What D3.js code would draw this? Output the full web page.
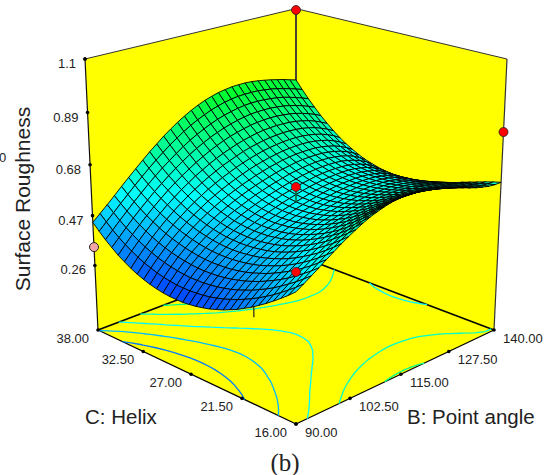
<!DOCTYPE html>
<html><head><meta charset="utf-8">
<style>html,body{margin:0;padding:0;background:#fff}svg{display:block}text{font-family:"Liberation Sans",Arial,sans-serif}</style>
<script src="https://cdn.jsdelivr.net/npm/d3@7"></script></head><body><div id="c"></div>
<script>
const bTicks=[90,102.5,115,127.5,140];
const cTicks=[16,21.5,27,32.5,38];
const zTicks=[0.26,0.47,0.68,0.89,1.1];
const zLabels=["0.26","0.47","0.68","0.89","1.1"];
const contourLevels=[0.345,0.435,0.52,0.605,0.69,0.775];
// Design points: B, C, response, above-surface flag
const designPoints=[[90,16,.566,1],[140,38,1.094,1],[140,16,.812,1],[115,27,.589,1],[90,38,.338,0]];
// Surface heights x 1000. Rows: C from 16 to 38. Columns: B from 90 to 140.
const surfaceMilli=[
[492,510,529,548,568,587,606,623,639,654,667,677,686,693,697,699,699,697,693,688,680,672,663,653,643,633,624,617,611,608,608],
[467,486,506,525,545,564,582,599,615,629,641,652,661,668,673,676,677,676,674,670,664,658,650,642,634,626,618,611,605,601,600],
[444,464,484,504,523,542,560,576,592,606,618,629,638,645,650,654,656,656,655,653,649,644,638,631,624,617,610,604,598,594,591],
[422,443,464,484,503,522,539,556,571,584,596,607,616,623,629,634,636,638,638,637,634,631,626,621,615,609,603,596,591,585,581],
[401,423,445,465,485,503,521,537,551,565,576,587,596,604,610,615,618,621,622,622,620,618,615,611,606,601,595,589,583,577,571],
[382,405,427,448,468,486,504,519,534,547,558,569,578,586,592,598,602,605,607,608,607,606,604,601,597,592,587,581,575,568,561],
[363,388,411,433,453,471,488,504,518,531,542,553,562,570,577,582,587,591,593,595,596,595,594,592,589,585,580,574,567,559,550],
[347,373,397,419,439,457,474,490,504,517,528,538,548,556,563,569,574,578,581,584,585,586,585,583,581,577,572,566,559,551,541],
[331,359,383,406,426,445,462,478,492,504,516,526,535,543,551,557,563,567,571,574,576,577,577,576,574,571,566,560,552,543,532],
[318,346,372,395,416,435,452,467,481,494,505,515,525,533,540,547,553,558,562,566,568,570,570,570,568,565,560,554,546,536,523],
[305,335,361,385,406,425,443,458,472,485,496,507,516,524,532,539,545,550,555,559,562,564,565,565,563,560,556,549,541,530,516],
[295,325,352,377,398,418,435,451,465,478,489,500,509,518,526,533,539,545,550,554,557,560,561,561,560,557,552,546,537,525,511],
[285,317,345,370,392,412,430,446,460,473,484,495,504,513,521,528,535,541,546,551,554,557,559,559,558,555,550,543,534,522,506],
[278,310,339,365,387,408,426,442,456,469,481,492,501,510,519,526,533,539,544,549,553,556,558,558,557,555,549,542,532,520,503],
[272,305,335,361,384,405,423,440,454,468,480,490,500,510,518,526,533,539,545,550,554,557,558,559,558,555,550,543,532,519,502],
[268,302,332,359,383,404,422,439,454,468,480,491,501,511,519,527,534,541,547,552,556,559,561,562,560,557,552,545,534,521,503],
[265,300,331,358,382,404,423,441,456,470,482,494,504,514,523,531,538,545,551,556,560,563,565,566,565,562,556,549,538,524,506],
[265,300,331,359,384,406,426,443,459,474,487,498,509,519,528,537,544,551,557,562,567,570,572,572,571,568,562,554,543,529,511],
[266,301,333,362,387,410,430,448,464,479,493,505,516,526,536,544,552,559,565,571,575,578,580,580,579,576,570,562,551,537,519],
[269,305,337,366,392,415,436,454,471,487,501,513,525,536,545,554,562,569,576,581,585,588,590,590,589,585,580,572,561,546,528],
[274,310,342,372,398,422,443,462,480,496,510,524,536,547,557,566,574,582,588,593,598,601,602,602,601,597,591,583,572,558,540],
[281,317,349,379,406,430,452,472,490,507,522,536,548,560,570,580,588,596,602,608,612,615,616,616,615,611,605,597,586,572,555],
[290,326,358,388,415,440,463,483,502,520,535,550,563,575,586,596,605,612,619,624,629,631,633,633,631,627,621,613,602,588,571],
[301,336,369,399,426,452,475,496,516,534,551,566,580,592,604,614,623,631,638,643,647,650,651,651,649,645,639,631,620,607,590],
[314,349,381,411,439,465,489,511,532,550,568,584,598,612,623,634,644,652,658,664,668,670,672,671,669,665,659,651,640,627,612],
[330,364,396,426,454,480,505,527,549,568,587,603,619,633,645,656,666,674,681,687,691,693,694,693,691,687,681,673,663,650,636],
[347,380,412,442,470,497,522,546,568,588,607,625,641,656,669,681,691,699,706,712,716,718,719,718,715,711,705,697,687,676,662],
[368,399,430,460,488,515,541,565,588,610,630,649,666,681,695,707,717,726,733,739,743,745,745,744,741,737,731,723,714,703,691],
[390,420,450,479,508,535,562,587,611,633,654,674,692,708,722,735,746,755,762,768,772,774,774,772,769,765,759,751,742,732,721],
[415,444,472,501,529,557,584,610,635,658,681,701,720,737,752,765,777,786,794,799,803,804,804,803,799,795,789,781,773,764,754],
[442,469,496,524,553,581,608,635,661,685,709,730,750,768,784,798,810,819,827,832,836,837,837,835,831,826,820,813,806,797,789]];
const grid=surfaceMilli.map(r=>r.map(v=>v/1000));
const N=grid.length;
const W=550,H=475;
const svg=d3.select("#c").append("svg").attr("width",W).attr("height",H);
const U=d3.scaleLinear().domain([90,140]).range([0,1]),V=d3.scaleLinear().domain([16,38]).range([0,1]),Z=d3.scaleLinear().domain([-.02,1.1]).range([0,1]);
const gridB=d3.scaleLinear().domain([0,N-1]).range([90,140]),gridC=d3.scaleLinear().domain([0,N-1]).range([16,38]);
const proj=(b,c,z)=>{const u=U(b),v=V(c),w=Z(z),s=u+v,D=1+.1267*s-.0694*w;return [296+223.1*(u-v)/D,(424-52.2*s-309.4*w)/D];};
const color=d3.scaleLinear().domain([.177,.53,.883]).range(["#0000ff","#00ffff","#00ff00"]);
const zLo=-.02,zHi=1.1;
const poly=a=>a.map(p=>p.join(",")).join(" ");
const yellow="#ffff00";
[[[90,38,zLo],[90,38,zHi],[140,38,zHi],[140,38,zLo]],[[140,16,zLo],[140,16,zHi],[140,38,zHi],[140,38,zLo]],[[90,16,zLo],[140,16,zLo],[140,38,zLo],[90,38,zLo]]].forEach(q=>{
 svg.append("polygon").attr("points",poly(q.map(p=>proj(...p)))).attr("fill",yellow);});
const line=(a,b,w,col)=>{const p=proj(...a),q=proj(...b);svg.append("line").attr("x1",p[0]).attr("y1",p[1]).attr("x2",q[0]).attr("y2",q[1]).attr("stroke",col).attr("stroke-width",w);};
line([90,38,zLo],[140,38,zLo],1.6,"#000");line([140,16,zLo],[140,38,zLo],1.6,"#000");
line([90,16,zLo],[90,38,zLo],1.3,"#000");line([90,16,zLo],[140,16,zLo],1.3,"#000");
line([90,38,zLo],[90,38,zHi],1.2,"#111");line([140,16,zLo],[140,16,zHi],1.2,"#333");
line([90,38,zHi],[140,38,zHi],1,"#333");line([140,16,zHi],[140,38,zHi],1,"#333");
line([140,38,zLo],[140,38,zHi],1.8,"#333");
const flat=[].concat(...grid);
const cs=d3.contours().size([N,N]).thresholds(contourLevels)(flat);
cs.forEach(c=>{let d="";c.coordinates.forEach(pg=>pg.forEach(ring=>{let prev=null;ring.forEach(pt=>{const i=pt[0]-.5,j=pt[1]-.5,m=N-1,e=1e-6;const ok=i>=-e&&i<=m+e&&j>=-e&&j<=m+e;const cur=ok?[i,j]:null;
 if(cur&&prev&&!((Math.abs(i)<e&&Math.abs(prev[0])<e)||(Math.abs(i-m)<e&&Math.abs(prev[0]-m)<e)||(Math.abs(j)<e&&Math.abs(prev[1])<e)||(Math.abs(j-m)<e&&Math.abs(prev[1]-m)<e))){
  const a=proj(gridB(prev[0]),gridC(prev[1]),zLo),b=proj(gridB(i),gridC(j),zLo);d+=`M${a[0]},${a[1]}L${b[0]},${b[1]}`;}
 prev=cur;});}));
 svg.append("path").attr("d",d).attr("fill","none").attr("stroke",color(c.value)).attr("stroke-width",1.3);});
line([113.5,31.1,zLo],[113.5,31.1,.3],1.2,"#222");
const dot=(p,r)=>svg.append("circle").attr("cx",p[0]).attr("cy",p[1]).attr("r",r).attr("fill","#000");
const lab=(p,t,dx,anchor)=>svg.append("text").attr("x",p[0]+dx).attr("y",p[1]+13).attr("text-anchor",anchor).attr("font-size",13).attr("fill","#222").text(t);
zTicks.forEach((z,i)=>{const p=proj(90,38,z);dot(p,1.8);lab([p[0],p[1]-4],zLabels[i],-9,"end");});
cTicks.forEach(c=>{const p=proj(90,c,zLo);dot(p,1.8);lab(p,d3.format(".2f")(c),-9,"end");});
bTicks.forEach(b=>{const p=proj(b,16,zLo);dot(p,1.8);lab(p,d3.format(".2f")(b),9,"start");});
dot(proj(140,38,zHi),1);dot(proj(90,38,zHi),1.8);
const pt=(d)=>{const p=proj(d[0],d[1],d[2]);svg.append("circle").attr("cx",p[0]).attr("cy",p[1]).attr("r",4.5).attr("fill",d[3]?"#ff0000":"#f4a6a6").attr("stroke","#222").attr("stroke-width",d[3]?.8:1);};
pt(designPoints[4]);
for(let j=N-2;j>=0;j--)for(let i=N-2;i>=0;i--){
 const q=[[i,j],[i+1,j],[i+1,j+1],[i,j+1]].map(([a,e])=>proj(gridB(a),gridC(e),grid[e][a]));
 const m=(grid[j][i]+grid[j][i+1]+grid[j+1][i]+grid[j+1][i+1])/4;
 svg.append("polygon").attr("points",poly(q)).attr("fill",color(m)).attr("stroke","#000").attr("stroke-width",.9);
}
line([115,27,.589],[115,27,grid[15][15]],1.6,"#063");
pt(designPoints[0]);pt(designPoints[1]);pt(designPoints[2]);pt(designPoints[3]);
svg.append("text").attr("transform","translate(30,199) rotate(-90)").attr("text-anchor","middle").attr("font-size",21).attr("fill","#222").text("Surface Roughness");
svg.append("text").attr("x",85).attr("y",424).attr("font-size",20.5).attr("fill","#222").text("C: Helix");
svg.append("text").attr("x",407).attr("y",424).attr("font-size",20.5).attr("fill","#222").text("B: Point angle");
svg.append("text").attr("x",285).attr("y",471).attr("text-anchor","middle").attr("font-size",25).attr("fill","#222").style("font-family","'Liberation Serif',serif").text("(b)");
svg.append("text").attr("x",-1).attr("y",162).attr("font-size",13).attr("fill","#222").text("0");
</script></body></html>
